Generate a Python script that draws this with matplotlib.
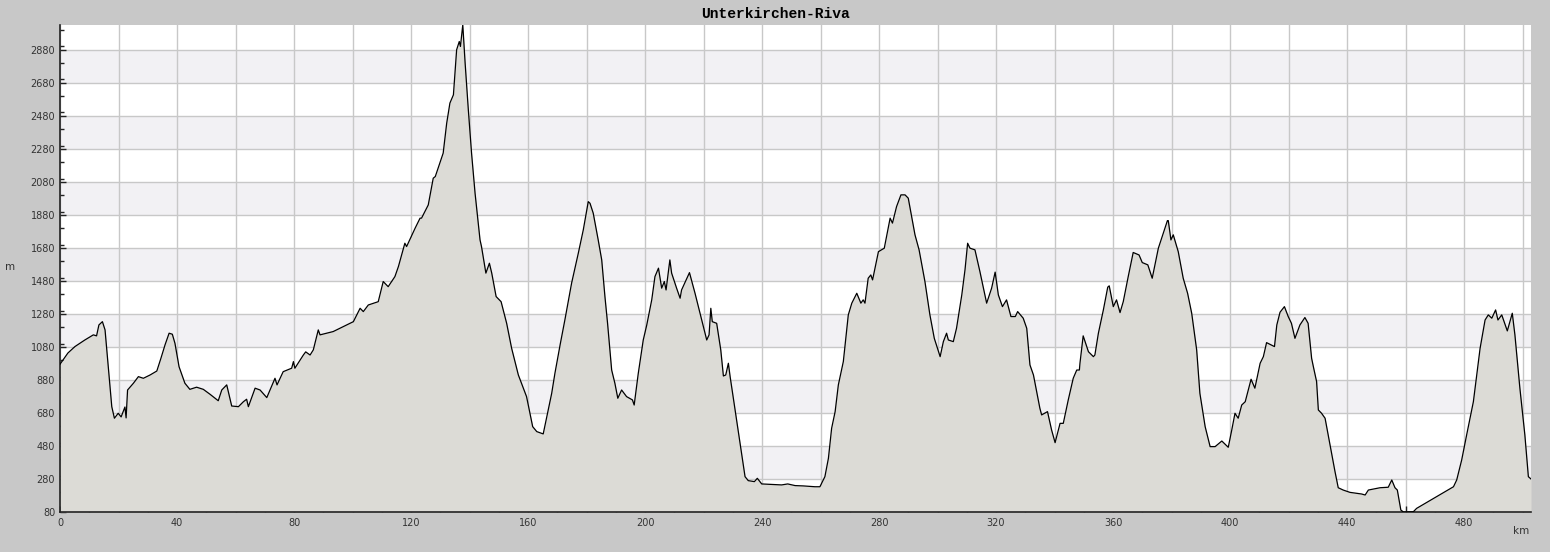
import matplotlib.pyplot as plt
from matplotlib.ticker import MultipleLocator, FuncFormatter

# 距離(km)と標高(m)
km = [0, 1.0, 2.7, 5.1, 8.5, 11.4, 12.5, 13.3, 14.5, 15.4, 16.5, 17.7, 18.6, 19.9,
      20.9, 22.2, 22.6, 23.1, 25.1, 26.8, 28.5, 30.8, 33.1, 34.5, 35.9, 37.3, 38.4,
      39.3, 40.7, 42.7, 44.4, 46.7, 49.0, 51.3, 54.1, 55.3, 57.0, 58.7, 61.0, 62.7,
      63.8, 64.4, 66.7, 68.4, 70.7, 73.5, 74.2, 76.3, 79.2, 79.8, 80.3, 82.1, 83.2,
      84.0, 85.5, 86.6, 88.3, 88.9, 93.4, 98.0, 100.3, 102.6, 103.7, 105.4, 108.8,
      110.5, 112.2, 114.5, 115.7, 117.9, 118.5, 121.4, 123.1, 123.6, 125.9, 127.6,
      128.3, 131.0, 132.2, 133.3, 134.5, 135.6, 136.5, 136.9, 137.7, 138.5, 139.6,
      140.7, 141.9, 143.6, 144.1, 145.6, 146.8, 147.6, 149.1, 150.8, 152.7, 154.4,
      156.7, 159.5, 161.6, 163.0, 165.2, 168.1, 169.2, 171.0, 172.6, 174.9, 177.2,
      178.9, 180.6, 181.2, 182.3, 184.0, 185.2, 186.3, 187.2, 188.6, 189.7, 190.7,
      192.0, 193.7, 195.7, 196.3, 197.7, 199.4, 200.6, 202.3, 203.4, 204.6, 205.7,
      206.6, 207.2, 208.5, 209.1, 210.8, 212.0, 212.5, 215.2, 217.1, 219.4, 221.1,
      221.9, 222.5, 223.0, 224.5, 225.9, 226.8, 227.6, 228.5, 229.1, 230.8, 232.5,
      234.2, 235.3, 237.4, 238.4, 239.9, 246.7, 248.8, 251.3, 254.1, 258.1, 259.8,
      261.5, 262.7, 263.8, 265.0, 266.1, 267.8, 269.0, 269.5, 270.7, 272.4, 273.8,
      274.6, 275.2, 276.3, 277.2, 277.8, 279.8, 281.8, 283.8, 284.6, 286.0, 287.5,
      288.9, 290.0, 292.3, 293.7, 295.7, 297.4, 298.9, 300.9, 302.0, 303.1, 303.7,
      305.4, 306.5, 308.3, 309.4, 310.3, 311.1, 312.8, 314.5, 315.7, 316.8, 318.5,
      319.7, 320.8, 322.2, 323.6, 325.1, 326.6, 327.4, 329.3, 330.5, 331.6, 332.8,
      333.9, 335.0, 335.6, 337.6, 339.0, 340.2, 341.9, 343.0, 344.7, 346.4, 347.6,
      348.5, 348.7, 349.8, 351.6, 353.3, 353.8, 355.0, 356.7, 358.2, 358.7, 360.1,
      361.2, 362.4, 363.5, 365.2, 366.9, 368.9, 370.0, 371.9, 373.4, 375.5, 377.2,
      378.6, 378.9, 379.8, 380.6, 382.3, 384.0, 385.5, 386.9, 388.6, 389.7, 391.5,
      393.2, 394.9, 397.2, 399.4, 400.6, 401.7, 402.8, 404.0, 405.2, 407.2, 408.5,
      410.3, 411.4, 412.5, 415.2, 416.0, 417.1, 418.6, 419.9, 421.0, 422.2, 423.9,
      425.6, 426.7, 427.9, 428.5, 429.6, 430.2, 431.3, 432.5, 434.2, 435.9, 437.0,
      438.7, 441.0, 445.0, 446.2, 447.3, 451.3, 454.1, 455.3, 456.4, 457.2, 458.4,
      459.3, 462.7, 463.8, 476.4, 477.5, 479.2, 480.9, 483.2, 485.5, 487.2, 488.3,
      489.5, 490.8, 491.6, 492.9, 494.8, 496.5, 497.4, 499.1, 500.8, 502.0, 502.9]

elev = [975, 1000, 1043, 1082, 1122, 1153, 1147, 1213, 1233, 1183, 960, 718, 648, 678,
        656, 716, 650, 819, 860, 900, 890, 910, 934, 1011, 1092, 1163, 1157,
        1102, 960, 860, 823, 836, 823, 793, 754, 819, 850, 722, 718, 748,
        763, 718, 830, 819, 773, 890, 850, 930, 951, 991, 951, 1000, 1031,
        1050, 1031, 1062, 1183, 1153, 1173, 1213, 1233, 1314, 1294, 1334, 1354,
        1476, 1445, 1506, 1567, 1708, 1688, 1799, 1860, 1860, 1940, 2102,
        2112, 2254, 2435, 2557, 2607, 2880, 2930, 2900, 3031, 2800, 2516,
        2254, 2011, 1728, 1688, 1527, 1587, 1527, 1385, 1354, 1223, 1072,
        910, 779, 597, 567, 553, 799, 920, 1095, 1243, 1466, 1648,
        1789, 1960, 1950, 1890, 1728, 1607, 1385, 1223, 940, 860, 769,
        819, 779, 759, 728, 920, 1122, 1213, 1365, 1506, 1557, 1436,
        1476, 1425, 1607, 1527, 1436, 1375, 1425, 1530, 1405, 1243, 1122,
        1153, 1314, 1233, 1223, 1062, 904, 910, 981, 900, 698, 496,
        294, 270, 264, 284, 250, 244, 250, 240, 238, 233, 233,
        294, 405, 587, 688, 850, 991, 1193, 1274, 1345, 1405, 1345,
        1365, 1345, 1496, 1516, 1486, 1657, 1678, 1860, 1830, 1930, 2001,
        2001, 1981, 1759, 1668, 1476, 1274, 1132, 1021, 1112, 1163, 1122,
        1112, 1193, 1395, 1547, 1708, 1678, 1668, 1536, 1436, 1345, 1436,
        1533, 1395, 1324, 1365, 1264, 1264, 1294, 1254, 1193, 971, 910,
        809, 708, 668, 688, 577, 500, 617, 617, 759, 890, 940,
        940, 981, 1147, 1051, 1021, 1031, 1163, 1304, 1442, 1450, 1324,
        1365, 1288, 1354, 1506, 1652, 1637, 1591, 1577, 1496, 1678, 1769,
        1845, 1845, 1728, 1759, 1657, 1496, 1405, 1284, 1062, 799, 597,
        476, 476, 510, 472, 577, 678, 648, 728, 748, 884, 830,
        981, 1021, 1106, 1082, 1213, 1290, 1324, 1264, 1223, 1132, 1213,
        1258, 1223, 1011, 960, 870, 698, 678, 648, 486, 324, 227,
        213, 199, 189, 183, 213, 227, 230, 274, 227, 213, 92,
        80, 82, 102, 233, 274, 395, 547, 748, 1072, 1243, 1274,
        1254, 1304, 1243, 1274, 1177, 1284, 1153, 830, 547, 294, 280]

title = 'Unterkirchen-Riva'
y_min, y_max = 80, 3030
x_max = 502.9

fig = plt.figure(figsize=(15.5, 5.52), dpi=100, facecolor='#c8c8c8')
ax = fig.add_axes([60 / 1550, 40 / 552, 1471 / 1550, 487 / 552])
ax.set_facecolor('white')

# 背景の縞模様
for lo in range(280, 3000, 400):
    ax.axhspan(lo, lo + 200, color='#f2f1f4', zorder=0, lw=0)

ax.fill_between(km, elev, y_min, color='#dcdbd6', zorder=2, lw=0)
ax.plot(km, elev, color='black', lw=0.9, zorder=3)

ax.set_xlim(0, x_max)
ax.set_ylim(y_min, y_max)

ax.xaxis.set_major_locator(MultipleLocator(20))
ax.xaxis.set_minor_locator(MultipleLocator(10))
ax.xaxis.set_major_formatter(FuncFormatter(lambda v, p: '%d' % v if v % 40 == 0 else ''))
ax.set_yticks(range(80, 3000, 200))
ax.yaxis.set_minor_locator(MultipleLocator(100))

ax.grid(True, which='major', color='#c8c8c8', lw=1, zorder=1)
ax.set_axisbelow(True)

ax.tick_params(which='both', direction='in', colors='#222222', labelcolor='#333333',
               labelsize=7)
ax.tick_params(which='major', length=4, width=1)
ax.tick_params(which='minor', length=3, width=1)
ax.tick_params(axis='x', pad=4)

for side in ['top', 'right']:
    ax.spines[side].set_visible(False)
for side in ['left', 'bottom']:
    ax.spines[side].set_color('#222222')
    ax.spines[side].set_linewidth(1.2)

fig.text(775 / 1550, 1 - 14 / 552, title, ha='center', va='center',
         family='Liberation Mono', fontsize=10.5, fontweight='bold', color='black')
fig.text(10 / 1550, 1 - 267 / 552, 'm', ha='center', va='center', fontsize=7.5, color='#333333')
fig.text(1521 / 1550, 1 - 531 / 552, 'km', ha='center', va='center', fontsize=7.5, color='#333333')

fig.savefig('out.png', dpi=100, facecolor=fig.get_facecolor())
